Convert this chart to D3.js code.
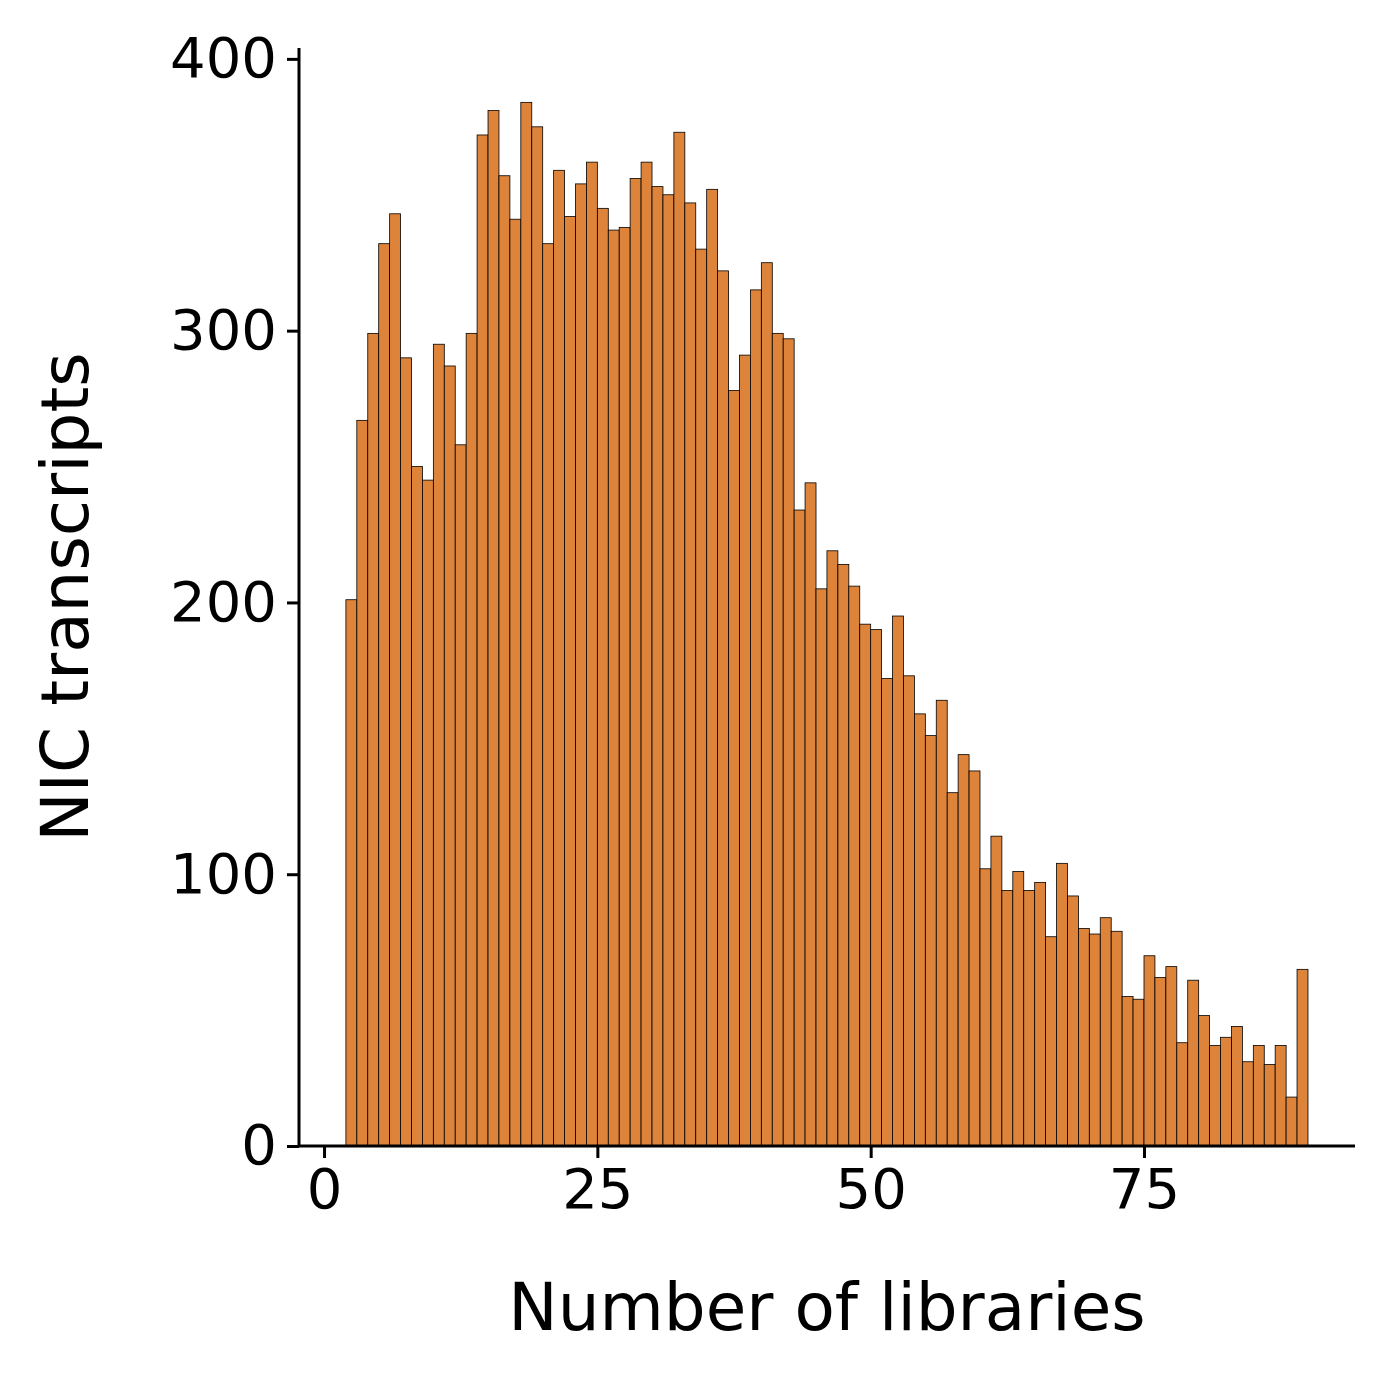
<!DOCTYPE html>
<html>
<head>
<meta charset="utf-8">
<script src="https://cdn.jsdelivr.net/npm/d3@7"></script>
<style>
  body { margin: 0; background: #fff; }
  text { font-family: "DejaVu Sans", sans-serif; }
</style>
</head>
<body>
<div id="chart"></div>
<script>
// 直方图数据：每个柱子宽度为 1，从 2 开始
const binStart = 2;
const binWidth = 1;
const counts = [
  201, 267, 299, 332, 343, 290, 250, 245, 295, 287,
  258, 299, 372, 381, 357, 341, 384, 375, 332, 359,
  342, 354, 362, 345, 337, 338, 356, 362, 353, 350,
  373, 347, 330, 352, 322, 278, 291, 315, 325, 299,
  297, 234, 244, 205, 219, 214, 206, 192, 190, 172,
  195, 173, 159, 151, 164, 130, 144, 138, 102, 114,
  94, 101, 94, 97, 77, 104, 92, 80, 78, 84,
  79, 55, 54, 70, 62, 66, 38, 61, 48, 37,
  40, 44, 31, 37, 30, 37, 18, 65
];
const xTicks = [0, 25, 50, 75];
const yTicks = [0, 100, 200, 300, 400];

const W = 1385, H = 1377;
const plot = { left: 299, right: 1355, top: 48, bottom: 1146 };

const svg = d3.select("#chart").append("svg")
  .attr("width", W).attr("height", H);

const x = d3.scaleLinear().domain([-2.29, 94.3]).range([plot.left, plot.right]);
const y = d3.scaleLinear().domain([0, 404]).range([plot.bottom, plot.top]);

const bins = counts.map((c, i) => ({ x0: binStart + i * binWidth, x1: binStart + (i + 1) * binWidth, c }));

svg.append("g").selectAll("rect").data(bins).join("rect")
  .attr("x", d => x(d.x0))
  .attr("width", d => x(d.x1) - x(d.x0))
  .attr("y", d => y(d.c))
  .attr("height", d => y(0) - y(d.c))
  .attr("fill", "#de843a")
  .attr("stroke", "#000")
  .attr("stroke-width", 0.8);

// 坐标轴
const xAxis = svg.append("g").attr("transform", `translate(0,${plot.bottom})`)
  .call(d3.axisBottom(x).tickValues(xTicks).tickSize(12).tickPadding(10));
const yAxis = svg.append("g").attr("transform", `translate(${plot.left},0)`)
  .call(d3.axisLeft(y).tickValues(yTicks).tickSize(12).tickPadding(10));

[xAxis, yAxis].forEach(a => {
  a.selectAll("path, line").attr("stroke", "#000").attr("stroke-width", 3);
  a.selectAll("text").attr("font-size", 56).attr("fill", "#000")
    .attr("font-family", "DejaVu Sans");
});
xAxis.select(".domain").attr("d", `M${plot.left},0H${plot.right}`);
yAxis.select(".domain").attr("d", `M0,${plot.bottom}V${plot.top}`);

// 轴标题
svg.append("text")
  .attr("x", (plot.left + plot.right) / 2).attr("y", 1330)
  .attr("text-anchor", "middle").attr("font-size", 66)
  .text("Number of libraries");
svg.append("text")
  .attr("transform", `translate(88,${(plot.top + plot.bottom) / 2}) rotate(-90)`)
  .attr("text-anchor", "middle").attr("font-size", 66)
  .text("NIC transcripts");
</script>
</body>
</html>
